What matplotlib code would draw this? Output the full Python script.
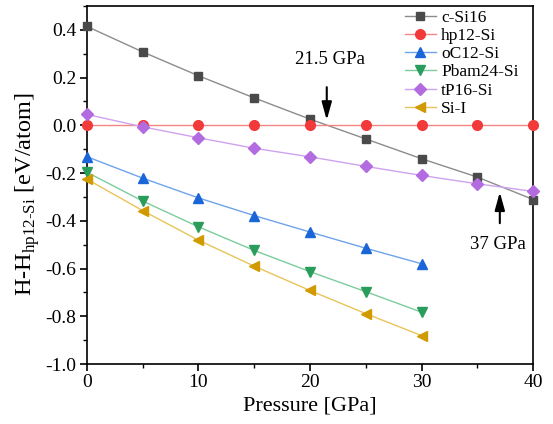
import matplotlib.pyplot as plt
from matplotlib.ticker import MultipleLocator

plt.rcParams['font.family'] = ['Liberation Serif', 'DejaVu Serif']
plt.rcParams['mathtext.fontset'] = 'custom'
plt.rcParams['mathtext.rm'] = 'Liberation Serif'

# pressure (GPa) and enthalpy relative to hp12-Si (eV/atom)
p_long = [0, 5, 10, 15, 20, 25, 30, 35, 40]
p_short = [0, 5, 10, 15, 20, 25, 30]
c_si16 = [0.415, 0.308, 0.208, 0.115, 0.026, -0.057, -0.140, -0.217, -0.311]
hp12_si = [0, 0, 0, 0, 0, 0, 0, 0, 0]
oc12_si = [-0.131, -0.221, -0.304, -0.378, -0.447, -0.515, -0.580]
pbam24_si = [-0.196, -0.317, -0.425, -0.524, -0.613, -0.697, -0.783]
tp16_si = [0.046, -0.006, -0.052, -0.096, -0.132, -0.172, -0.210, -0.245, -0.277]
si_i = [-0.225, -0.357, -0.481, -0.590, -0.692, -0.789, -0.881]

# (name, x, y, marker, size, marker colour, line colour)
series = [
    ('c-Si16', p_long, c_si16, 's', 6.2, '#4a4a4a', '#8c8c8c'),
    ('hp12-Si', p_long, hp12_si, 'o', 7, '#f23a3a', '#f58585'),
    ('oC12-Si', p_short, oc12_si, '^', 7, '#1a66d9', '#6fa3ea'),
    ('Pbam24-Si', p_short, pbam24_si, 'v', 7, '#2a9d5c', '#7ccc9c'),
    ('tP16-Si', p_long, tp16_si, 'D', 6, '#b36be0', '#cfa2ef'),
    ('Si-I', p_short, si_i, '<', 7, '#d19a00', '#e8c45a'),
]

fig = plt.figure(figsize=(5.53, 4.24), dpi=100)
ax = fig.add_axes([0.1568, 0.1415, 0.8076, 0.8443])

for name, x, y, mk, ms, mc, lc in series:
    ax.plot(x, y, color=lc, linewidth=1.0, marker=mk, markersize=ms,
            markerfacecolor=mc, markeredgecolor=mc, label=name, clip_on=False, zorder=3)

# crossover arrows
arrow = dict(arrowstyle='-|>,head_length=0.9,head_width=0.25', color='black',
             lw=1.5, mutation_scale=12, shrinkA=0, shrinkB=0)
ax.annotate('', xy=(21.5, 0.022), xytext=(21.5, 0.16), arrowprops=arrow)
ax.text(21.8, 0.275, '21.5 GPa', fontsize=13.5, ha='center', va='center')
ax.annotate('', xy=(37, -0.28), xytext=(37, -0.41), arrowprops=arrow)
ax.text(36.8, -0.50, '37 GPa', fontsize=13.5, ha='center', va='center')

ax.set_xlim(0, 40)
ax.set_ylim(-1.0, 0.5)
ax.xaxis.set_major_locator(MultipleLocator(10))
ax.xaxis.set_minor_locator(MultipleLocator(5))
ax.yaxis.set_major_locator(MultipleLocator(0.2))
ax.yaxis.set_minor_locator(MultipleLocator(0.1))
ax.yaxis.set_major_formatter(lambda v, pos: f'{v:.1f}')
ax.tick_params(which='major', direction='out', length=5, width=1.2, labelsize=14, pad=2.5)
ax.tick_params(which='minor', direction='out', length=3, width=1.0)
for s in ax.spines.values():
    s.set_linewidth(1.2)

ax.set_xlabel('Pressure [GPa]', fontsize=16, labelpad=4)
ax.set_ylabel(r'H-H$_{\mathrm{hp12\text{-}Si}}$ [eV/atom]', fontsize=17.5)
ax.yaxis.set_label_coords(-0.10, 0.475)

ax.legend(loc='upper left', bbox_to_anchor=(0.712, 0.99), frameon=False, fontsize=12.5,
          handlelength=1.8, handletextpad=0.3, labelspacing=0.12, borderpad=0,
          borderaxespad=0)

fig.savefig('out.png', dpi=100)
